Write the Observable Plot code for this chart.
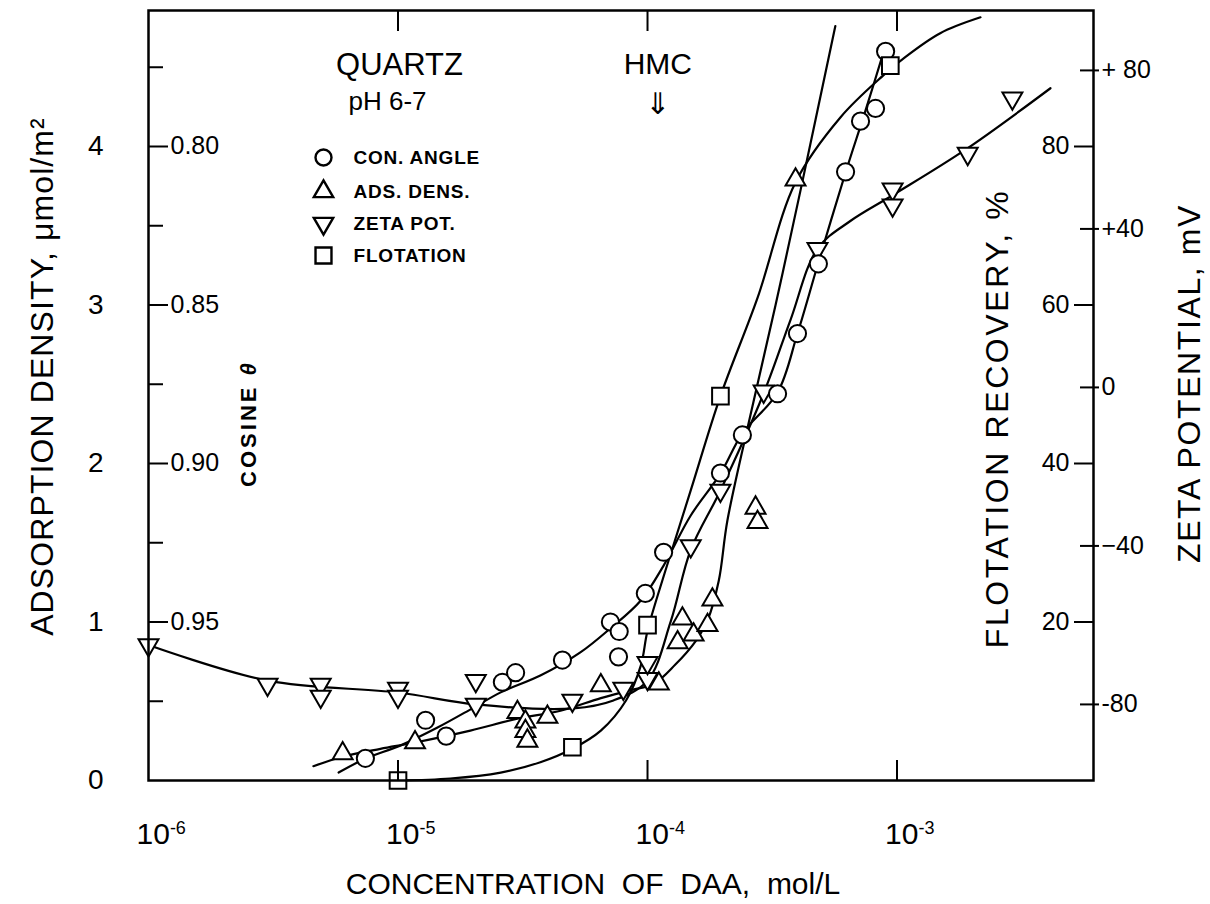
<!DOCTYPE html>
<html><head><meta charset="utf-8">
<script src="https://cdn.jsdelivr.net/npm/d3@7"></script>
<script src="https://cdn.jsdelivr.net/npm/@observablehq/plot@0.6"></script>
<style>
body{margin:0;background:#fff;}
#chart svg{display:block}
</style></head><body><div id="chart"></div>
<script>
// ---------------- DATA ----------------
// Contact angle (circles): concentration mol/L, cosine theta
const contactConc = [7.4e-6, 1.29e-5, 1.56e-5, 2.62e-5, 2.96e-5, 4.56e-5, 7.1e-5, 7.7e-5, 7.65e-5, 9.8e-5, 1.16e-4, 1.96e-4, 2.40e-4, 3.32e-4, 3.99e-4, 4.84e-4, 6.22e-4, 7.14e-4, 8.2e-4, 9.0e-4];
const contactCos  = [0.993, 0.981, 0.986, 0.969, 0.966, 0.962, 0.950, 0.953, 0.961, 0.941, 0.928, 0.903, 0.891, 0.878, 0.859, 0.837, 0.808, 0.792, 0.788, 0.770];
const contactCurveConc = [5.78e-6, 7.4e-6, 1.02e-5, 1.44e-5, 2.01e-5, 2.58e-5, 3.72e-5, 5.38e-5, 7.1e-5, 9.4e-5, 1.16e-4, 1.49e-4, 1.96e-4, 2.40e-4, 3.32e-4, 3.99e-4, 4.84e-4, 6.22e-4, 7.48e-4, 9.0e-4];
const contactCurveCos  = [0.9975, 0.9931, 0.989, 0.9833, 0.977, 0.9722, 0.9669, 0.9596, 0.952, 0.9432, 0.9322, 0.9164, 0.9032, 0.8905, 0.8776, 0.859, 0.8366, 0.8082, 0.7886, 0.7681];

// Adsorption density (up triangles): umol/m2
const adsConc = [6.0e-6, 1.17e-5, 3.01e-5, 3.24e-5, 3.24e-5, 3.3e-5, 3.97e-5, 6.5e-5, 1.11e-4, 1.32e-4, 1.38e-4, 1.53e-4, 1.74e-4, 1.82e-4, 2.71e-4, 2.76e-4, 3.92e-4];
const adsDens = [0.17, 0.24, 0.43, 0.37, 0.31, 0.25, 0.40, 0.60, 0.61, 0.87, 1.02, 0.92, 0.98, 1.14, 1.72, 1.63, 3.79];
const adsCurveConc = [4.58e-6, 6.0e-6, 8.5e-6, 1.17e-5, 1.95e-5, 3.01e-5, 4.48e-5, 6.5e-5, 8.55e-5, 1.06e-4, 1.29e-4, 1.56e-4, 1.74e-4, 1.93e-4, 2.09e-4, 2.59e-4, 3.26e-4, 4.10e-4, 5.66e-4];
const adsCurveDens = [0.09, 0.15, 0.20, 0.24, 0.315, 0.39, 0.44, 0.52, 0.57, 0.61, 0.73, 0.88, 1.01, 1.26, 1.64, 2.31, 3.00, 3.72, 4.76];

// Zeta potential (down triangles): mV
const zetaConc = [1.0e-6, 3.0e-6, 4.9e-6, 4.9e-6, 1.0e-5, 1.0e-5, 2.05e-5, 2.05e-5, 5.0e-5, 8.0e-5, 1.0e-4, 1.0e-4, 1.49e-4, 1.96e-4, 2.92e-4, 4.8e-4, 9.6e-4, 9.6e-4, 1.92e-3, 2.9e-3];
const zetaMV   = [-65, -75, -75, -78, -76, -78, -74, -80, -79, -76, -73.5, -69.5, -40, -26, -1, 35, 50, 46, 59, 73];
const zetaCurveConc = [1.0e-6, 3.0e-6, 1.0e-5, 2.05e-5, 5.05e-5, 7.3e-5, 1.0e-4, 1.24e-4, 1.49e-4, 1.96e-4, 2.92e-4, 3.74e-4, 4.8e-4, 6.5e-4, 9.6e-4, 1.88e-3, 4.12e-3];
const zetaCurveMV   = [-65, -74, -77, -80, -81, -79, -74, -59, -41, -26, -1.5, 17, 35, 42, 48.5, 60, 75.5];

// Flotation recovery (squares): %
const flotConc = [1.0e-5, 5.0e-5, 1.0e-4, 1.96e-4, 9.4e-4];
const flotPct  = [0, 4.2, 19.6, 48.5, 90.2];
const flotCurveConc = [1.0e-5, 1.62e-5, 2.58e-5, 3.72e-5, 5.0e-5, 6.5e-5, 8.2e-5, 9.4e-5, 1.0e-4, 1.18e-4, 1.49e-4, 1.96e-4, 2.76e-4, 3.92e-4, 5.94e-4, 8.83e-4, 1.06e-3, 1.49e-3, 2.16e-3];
const flotCurvePct  = [0, 0.25, 1.0, 2.3, 4.0, 6.3, 10.1, 14.5, 18.9, 26.5, 36.6, 48.5, 60.9, 75.5, 83.7, 89.0, 91.1, 94.3, 96.3];

// Axis ticks and labels
const xDomain = [1e-6, 6.13e-3];
const xLabelTicks = [1e-6, 1e-5, 1e-4, 1e-3];
const xInnerTicks = [1e-5, 1e-4, 1e-3];
const densTicks = [0, 1, 2, 3, 4];
const densMinorTicks = [0.5, 1.5, 2.5, 3.5, 4.5];
const cosTicks = [0.95, 0.90, 0.85, 0.80];
const flotTicks = [20, 40, 60, 80];
const zetaTicks = [-80, -40, 0, 40, 80];
const zetaTickLabels = ["-80", "\u221240", "0", "+40", "+ 80"];
const hmcConc = 1.1e-4;
const legendLabels = ["CON. ANGLE", "ADS. DENS.", "ZETA POT.", "FLOTATION"];
const titleY = "ADSORPTION DENSITY, \u03bcmol/m\u00b2";
const titleFlot = "FLOTATION RECOVERY, %";
const titleZeta = "ZETA POTENTIAL, mV";
const titleCos = "COSINE \u03b8";

// ---------------- axis mappings onto the adsorption-density scale ----------------
const yMax = 4.858;
const cosToD = c => (1 - c) / 0.05;
const zetaZero = 2.48;
const zetaToD = z => zetaZero + z / 40;
const flotToD = f => f / 20;

const zip = (xs, ys, f) => xs.map((x, i) => ({x, y: f(ys[i])}));
const contactPts = zip(contactConc, contactCos, cosToD);
const contactCurve = zip(contactCurveConc, contactCurveCos, cosToD);
const adsPts = zip(adsConc, adsDens, d => d);
const adsCurve = zip(adsCurveConc, adsCurveDens, d => d);
const zetaPts = zip(zetaConc, zetaMV, zetaToD);
const zetaCurve = zip(zetaCurveConc, zetaCurveMV, zetaToD);
const flotPts = zip(flotConc, flotPct, flotToD);
const flotCurve = zip(flotCurveConc, flotCurvePct, flotToD);

const downTri = {
  draw(ctx, size) {
    const s3 = Math.sqrt(3);
    const y = -Math.sqrt(size / (s3 * 3));
    ctx.moveTo(0, -2 * y);
    ctx.lineTo(-s3 * y, y);
    ctx.lineTo(s3 * y, y);
    ctx.closePath();
  }
};

const FONT = "'Liberation Sans', Arial, Helvetica, sans-serif";
const dotStyle = {fill: "white", stroke: "black", strokeWidth: 2};
const lineStyle = {x: "x", y: "y", stroke: "black", strokeWidth: 2.2, curve: "catmull-rom"};

const legendSymbols = ["circle", "triangle", downTri, "square"];
const legendR = [8, 7.2, 7.2, 9];
const legendDy = [147, 181, 213, 245];
const legendMarks = legendLabels.flatMap((lab, i) => [
  Plot.dot([lab], {frameAnchor: "top-left", dx: 175, dy: legendDy[i], symbol: legendSymbols[i], r: legendR[i], ...dotStyle, strokeWidth: 2.4}),
  Plot.text([lab], {frameAnchor: "top-left", dx: 205, dy: legendDy[i], textAnchor: "start", lineAnchor: "middle", fontWeight: "bold", fontSize: 19})
]);

const plot = Plot.plot({
  width: 1210, height: 904,
  marginLeft: 148, marginRight: 117, marginTop: 10, marginBottom: 124,
  x: {type: "log", domain: xDomain, label: null},
  y: {domain: [0, yMax], label: null},
  style: {fontFamily: FONT, fontSize: "24px", color: "black", background: "white", overflow: "visible"},
  marks: [
    // curves
    Plot.line(zetaCurve, lineStyle),
    Plot.line(contactCurve, lineStyle),
    Plot.line(adsCurve, lineStyle),
    Plot.line(flotCurve, lineStyle),
    // data points
    Plot.dot(zetaPts, {x: "x", y: "y", symbol: downTri, r: 7.4, ...dotStyle}),
    Plot.dot(adsPts, {x: "x", y: "y", symbol: "triangle", r: 7.4, ...dotStyle}),
    Plot.dot(contactPts, {x: "x", y: "y", symbol: "circle", r: 8.6, ...dotStyle}),
    Plot.dot(flotPts, {x: "x", y: "y", symbol: "square", r: 9.4, ...dotStyle}),
    // frame
    Plot.frame({stroke: "black", strokeWidth: 2.5}),
    // left axis: density labels
    Plot.axisY({anchor: "left", ticks: densTicks, tickSize: 0, tickPadding: 45, fontSize: 28, tickFormat: d => String(d), label: null}),
    // left inner cosine axis
    Plot.axisY({anchor: "left", ticks: cosTicks.map(cosToD), tickSize: -20, tickPadding: -2, textAnchor: "start", strokeWidth: 2,
      fontSize: 25, tickFormat: d => d3.format(".2f")(1 - 0.05 * d), label: null}),
    Plot.axisY({anchor: "left", ticks: densMinorTicks, tickSize: -15, strokeWidth: 2, tickFormat: () => "", label: null}),
    // right inner flotation axis
    Plot.axisY({anchor: "right", ticks: flotTicks.map(flotToD), tickSize: -20, tickPadding: -4, textAnchor: "end", strokeWidth: 2,
      fontSize: 25, tickFormat: d => String(Math.round(d * 20)), label: null}),
    // right zeta axis (ticks crossing the spine)
    Plot.axisY({anchor: "right", ticks: zetaTicks.map(zetaToD), tickSize: -14, strokeWidth: 2, tickFormat: () => "", label: null}),
    Plot.axisY({anchor: "right", ticks: zetaTicks.map(zetaToD), tickSize: 5, tickPadding: 3, strokeWidth: 2, fontSize: 25,
      tickFormat: d => zetaTickLabels[zetaTicks.indexOf(Math.round((d - zetaZero) * 40))], label: null}),
    // x axis
    Plot.axisX({anchor: "bottom", ticks: xInnerTicks, tickSize: -20, strokeWidth: 2, tickFormat: () => "", label: null}),
    Plot.axisX({anchor: "top", ticks: xInnerTicks, tickSize: -20, strokeWidth: 2, tickFormat: () => "", label: null}),
    Plot.axisX({anchor: "bottom", ticks: xLabelTicks, tickSize: 0, tickPadding: 54, lineAnchor: "middle", textAnchor: "start", dx: -12,
      fontSize: 30, tickFormat: d => "10^" + Math.round(Math.log10(d)), label: null}),
    // axis titles
    Plot.text(["CONCENTRATION\u00a0 OF\u00a0 DAA,\u00a0 mol/L"], {frameAnchor: "bottom", dx: -28, dy: 104, textAnchor: "middle", lineAnchor: "middle", fontSize: 30}),
    Plot.text([titleY], {frameAnchor: "left", dx: -106, dy: -19, rotate: -90, textAnchor: "middle", lineAnchor: "middle", fontSize: 32}),
    Plot.text([titleFlot], {frameAnchor: "right", dx: -96, dy: 23, rotate: -90, textAnchor: "middle", lineAnchor: "middle", fontSize: 32}),
    Plot.text([titleZeta], {frameAnchor: "right", dx: 96, dy: -12, rotate: -90, textAnchor: "middle", lineAnchor: "middle", fontSize: 32}),
    Plot.text([titleCos], {frameAnchor: "left", dx: 100, dy: 28, rotate: -90, textAnchor: "middle", lineAnchor: "middle", fontSize: 22, fontWeight: "bold"}),
    // annotations
    Plot.text(["QUARTZ"], {frameAnchor: "top-left", dx: 251, dy: 55, textAnchor: "middle", lineAnchor: "middle", fontSize: 31}),
    Plot.text(["pH 6-7"], {frameAnchor: "top-left", dx: 239, dy: 91, textAnchor: "middle", lineAnchor: "middle", fontSize: 26}),
    Plot.text([hmcConc], {x: d => d, frameAnchor: "top", dy: 54, text: () => "HMC", textAnchor: "middle", lineAnchor: "middle", fontSize: 30}),
    Plot.text([hmcConc], {x: d => d, frameAnchor: "top", dy: 94, text: () => "\u21d3", textAnchor: "middle", lineAnchor: "middle", fontSize: 30, fontFamily: "DejaVu Sans"}),
    ...legendMarks
  ]
});

// superscript exponents on the x tick labels, letter spacing on titles
const NS = "http://www.w3.org/2000/svg";
plot.querySelectorAll("text").forEach(t => {
  const s = t.textContent;
  const m = s.match(/^10\^(-?\d+)$/);
  if (m) {
    t.textContent = "10";
    const ts = document.createElementNS(NS, "tspan");
    ts.setAttribute("dy", "-0.55em");
    ts.setAttribute("font-size", "0.6em");
    ts.textContent = m[1];
    t.appendChild(ts);
  } else if (s === titleY) {
    t.style.letterSpacing = "1.1px";
  } else if (s === titleFlot) {
    t.style.letterSpacing = "2.6px";
  } else if (s === titleZeta) {
    t.style.letterSpacing = "1.6px";
  } else if (legendLabels.includes(s)) {
    t.style.letterSpacing = "0.8px";
  } else if (s === titleCos) {
    t.style.letterSpacing = "3px";
    t.textContent = "COSINE ";
    const ts = document.createElementNS(NS, "tspan");
    ts.setAttribute("font-style", "italic");
    ts.textContent = "\u03b8";
    t.appendChild(ts);
  }
});
document.getElementById("chart").appendChild(plot);
</script>
</body></html>
